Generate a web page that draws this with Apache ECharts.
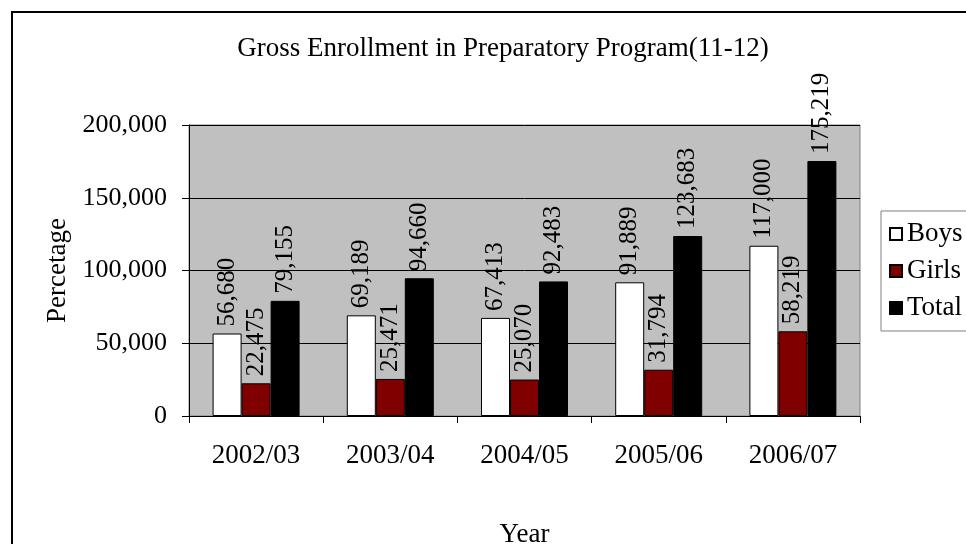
<!DOCTYPE html>
<html>
<head>
<meta charset="utf-8">
<script src="https://cdn.jsdelivr.net/npm/echarts@6/dist/echarts.min.js"></script>
<style>
html,body{margin:0;padding:0;background:#fff;}
#chart{width:966px;height:544px;}
</style>
</head>
<body>
<div id="chart"></div>
<script>
var categories = ['2002/03', '2003/04', '2004/05', '2005/06', '2006/07'];
var boys = [56680, 69189, 67413, 91889, 117000];
var girls = [22475, 25471, 25070, 31794, 58219];
var total = [79155, 94660, 92483, 123683, 175219];
var yTicks = [0, 50000, 100000, 150000, 200000];

var FONT = '"Liberation Serif", serif';
var chart = echarts.init(document.getElementById('chart'));

function fmt(v) { return Number(v).toLocaleString('en-US'); }

function series(name, data, color) {
  return {
    name: name,
    type: 'bar',
    data: data,
    barWidth: 29,
    barGap: '0%',
    itemStyle: { color: color, borderColor: '#000', borderWidth: 1 },
    label: {
      show: true,
      position: 'top',
      rotate: 90,
      align: 'left',
      verticalAlign: 'middle',
      distance: 7,
      color: '#000',
      fontFamily: FONT,
      fontSize: 25,
      formatter: function (p) { return fmt(p.value); }
    }
  };
}

chart.setOption({
  animation: false,
  backgroundColor: '#fff',
  textStyle: { fontFamily: FONT },
  title: {
    text: 'Gross Enrollment in Preparatory Program(11-12)',
    left: 498,
    textAlign: 'center',
    top: 30,
    textStyle: { fontFamily: FONT, fontSize: 27, fontWeight: 'normal', color: '#000' }
  },
  graphic: [{
    type: 'rect',
    shape: { x: 12, y: 12, width: 1200, height: 800 },
    style: { fill: 'none', stroke: '#000', lineWidth: 2 },
    silent: true,
    z: 100
  }],
  legend: {
    orient: 'vertical',
    left: 881,
    top: 211,
    padding: [8, 60, 8, 8],
    itemWidth: 12,
    itemHeight: 12,
    itemGap: 7,
    icon: 'rect',
    backgroundColor: '#fff',
    borderColor: '#808080',
    borderWidth: 1,
    textStyle: { fontFamily: FONT, fontSize: 27, color: '#000', lineHeight: 30 },
    itemStyle: { borderColor: '#000', borderWidth: 2 },
    data: ['Boys', 'Girls', 'Total']
  },
  grid: {
    left: 189,
    right: 106,
    top: 125,
    bottom: 128,
    outerBoundsMode: 'none',
    containLabel: false,
    show: true,
    backgroundColor: '#c0c0c0',
    borderColor: '#808080',
    borderWidth: 1
  },
  xAxis: {
    type: 'category',
    data: categories,
    name: 'Year',
    nameLocation: 'middle',
    nameGap: 105,
    nameTextStyle: { fontFamily: FONT, fontSize: 27, color: '#000' },
    axisLine: { lineStyle: { color: '#000', width: 1 } },
    axisTick: { show: true, length: 7, lineStyle: { color: '#000' } },
    axisLabel: { fontFamily: FONT, fontSize: 27, color: '#000', margin: 26 }
  },
  yAxis: {
    type: 'value',
    min: yTicks[0],
    max: yTicks[yTicks.length - 1],
    interval: yTicks[1] - yTicks[0],
    name: 'Percetage',
    nameLocation: 'middle',
    nameGap: 118,
    nameRotate: 90,
    nameTextStyle: { fontFamily: FONT, fontSize: 27, color: '#000' },
    axisLine: { show: true, lineStyle: { color: '#000', width: 1 } },
    axisTick: { show: true, length: 7, lineStyle: { color: '#000' } },
    axisLabel: { fontFamily: FONT, fontSize: 26, color: '#000', margin: 22, formatter: function (v) { return fmt(v); } },
    splitLine: { show: true, lineStyle: { color: '#000', width: 1 } }
  },
  series: [
    series('Boys', boys, '#ffffff'),
    series('Girls', girls, '#800000'),
    series('Total', total, '#000000')
  ]
});
</script>
</body>
</html>
